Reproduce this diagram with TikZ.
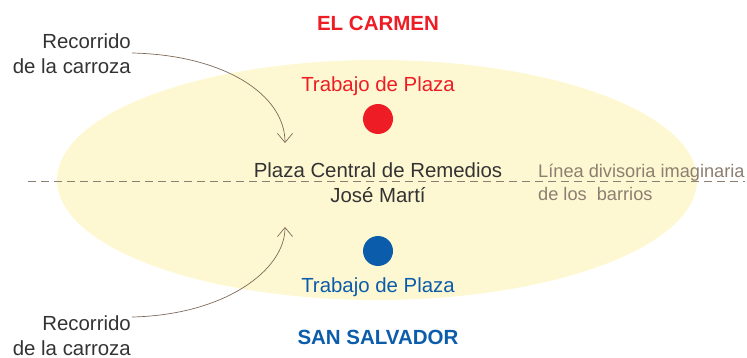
\documentclass[tikz,border=0pt]{standalone}
\usepackage{fontspec}
\setmainfont{Liberation Sans}
\usetikzlibrary{arrows.meta}
\definecolor{ellfill}{HTML}{FEF8D2}
\definecolor{cred}{HTML}{EE1C25}
\definecolor{cblue}{HTML}{0B5CAB}
\definecolor{cbrown}{HTML}{7D6A5A}
\definecolor{ctext}{HTML}{333333}
\definecolor{cline}{HTML}{8C7E70}
\tikzset{
  lbl/.style={inner sep=0pt, font=\fontsize{20.4}{25}\selectfont, text=ctext},
  barrio/.style={inner sep=0pt, font=\fontsize{20.5}{25}\selectfont\bfseries},
  dot/.style={circle, minimum size=30pt, inner sep=0pt},
  route/.style={draw=cbrown, line width=0.7pt, -{Straight Barb[length=9pt,width=15pt]}},
  divline/.style={draw=cline, line width=0.8pt, dash pattern=on 8pt off 5pt},
}
\begin{document}
\begin{tikzpicture}[x=1pt,y=-1pt]
\useasboundingbox (0,0) rectangle (747,358);
\fill[ellfill] (377,180) ellipse [x radius=320, y radius=120];
\draw[divline] (28,181) -- (745,181);
\node[barrio, text=cred, anchor=base] (carmen) at (378,31) {EL CARMEN};
\node[lbl, text=cred, anchor=base] (tpr) at (378,92) {Trabajo de Plaza};
\node[dot, fill=cred] (dr) at (378,119) {};
\node[lbl, anchor=base] (plaza1) at (378,178) {Plaza Central de Remedios};
\node[lbl, anchor=base] (plaza2) at (378,203) {José Martí};
\node[dot, fill=cblue] (db) at (378,251) {};
\node[lbl, text=cblue, anchor=base] (tpb) at (378,292) {Trabajo de Plaza};
\node[barrio, text=cblue, anchor=base] (salv) at (378,344) {SAN SALVADOR};
\node[lbl, text=cline, anchor=base west, font=\fontsize{18.2}{23}\selectfont] (linea1) at (538,178) {Línea divisoria imaginaria};
\node[lbl, text=cline, anchor=base west, font=\fontsize{18.2}{23}\selectfont] (linea2) at (538,201) {de los\ \ barrios};
\node[lbl, anchor=base east] (rt1) at (131,49) {Recorrido};
\node[lbl, anchor=base east] (rt2) at (131,74) {de la carroza};
\node[lbl, anchor=base east] (rb1) at (131,330) {Recorrido};
\node[lbl, anchor=base east] (rb2) at (131,355) {de la carroza};
\coordinate (st) at (132,53);
\coordinate (et) at (285,143);
\coordinate (sb) at (132,317);
\coordinate (eb) at (285,227);
\draw[route] (st) .. controls (225,55) and (285,95) .. (et);
\draw[route] (sb) .. controls (225,315) and (285,270) .. (eb);
\end{tikzpicture}
\end{document}
